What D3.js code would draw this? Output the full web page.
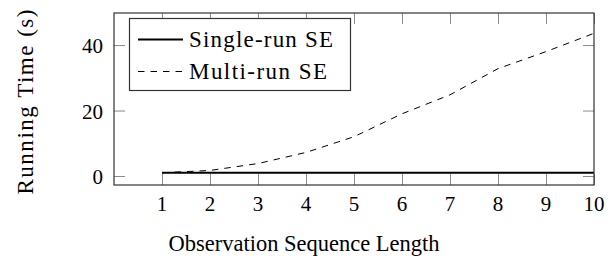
<!DOCTYPE html>
<html lang="en">
<head>
    <title>Running Time vs Observation Sequence Length</title>
    <script src="https://d3js.org/d3.v7.min.js"></script>
</head>
<body style="margin: 0; background: #fff;">
    <div id="chart"></div>

    <script>
        // Data
        const lengths = [1, 2, 3, 4, 5, 6, 7, 8, 9, 10];
        const singleRun = [1.0, 1.0, 1.0, 1.0, 1.0, 1.0, 1.0, 1.0, 1.0, 1.0];
        const multiRun = [1.0, 1.7, 3.8, 7.2, 12.0, 19.0, 24.8, 32.8, 38.0, 43.6];
        const xTicks = [1, 2, 3, 4, 5, 6, 7, 8, 9, 10];
        const yTicks = [0, 20, 40];
        const seriesNames = ["Single-run SE", "Multi-run SE"];

        const width = 609;
        const height = 259;
        const plot = { left: 114, right: 594, top: 13, bottom: 185 };
        const font = "Liberation Serif";

        const svg = d3.select("#chart")
            .append("svg")
            .attr("width", width)
            .attr("height", height)
            .attr("font-family", font);

        const x = d3.scaleLinear().domain([0, 10]).range([plot.left, plot.right]);
        const y = d3.scaleLinear().domain([-2.75, 49.8]).range([plot.bottom, plot.top]);

        const tickLen = 11;
        const tickColor = "#8a8a8a";

        // Ticks on all four sides, pointing inwards
        const axes = [
            { axis: d3.axisBottom(x).tickValues(xTicks).tickSize(-tickLen).tickFormat(""), t: `translate(0,${plot.bottom})` },
            { axis: d3.axisTop(x).tickValues(xTicks).tickSize(-tickLen).tickFormat(""), t: `translate(0,${plot.top})` },
            { axis: d3.axisLeft(y).tickValues(yTicks).tickSize(-tickLen).tickFormat(""), t: `translate(${plot.left},0)` },
            { axis: d3.axisRight(y).tickValues(yTicks).tickSize(-tickLen).tickFormat(""), t: `translate(${plot.right},0)` }
        ];
        axes.forEach(a => {
            const g = svg.append("g").attr("transform", a.t).call(a.axis);
            g.select(".domain").remove();
            g.selectAll(".tick line").attr("stroke", tickColor).attr("stroke-width", 1);
        });

        // Tick labels
        svg.append("g")
            .selectAll("text")
            .data(xTicks)
            .join("text")
            .attr("x", d => x(d))
            .attr("y", 211)
            .attr("text-anchor", "middle")
            .attr("font-family", font)
            .attr("font-size", 21)
            .text(d => d);

        svg.append("g")
            .selectAll("text")
            .data(yTicks)
            .join("text")
            .attr("x", 103)
            .attr("y", d => y(d) + 8)
            .attr("text-anchor", "end")
            .attr("font-family", font)
            .attr("font-size", 21)
            .text(d => d);

        // Lines
        const line = vals => d3.line()
            .x((d, i) => x(lengths[i]))
            .y(d => y(d))(vals);

        svg.append("path")
            .attr("d", line(multiRun))
            .attr("fill", "none")
            .attr("stroke", "#000")
            .attr("stroke-width", 1)
            .attr("stroke-dasharray", "6.5,6");

        svg.append("path")
            .attr("d", line(singleRun))
            .attr("fill", "none")
            .attr("stroke", "#000")
            .attr("stroke-width", 2.2);

        // Frame
        svg.append("rect")
            .attr("x", plot.left)
            .attr("y", plot.top)
            .attr("width", plot.right - plot.left)
            .attr("height", plot.bottom - plot.top)
            .attr("fill", "none")
            .attr("stroke", "#333")
            .attr("stroke-width", 1.2);

        // Legend
        const legend = svg.append("g");
        legend.append("rect")
            .attr("x", 129.5)
            .attr("y", 18.5)
            .attr("width", 221)
            .attr("height", 72)
            .attr("fill", "#fff")
            .attr("stroke", "#333")
            .attr("stroke-width", 1.2);

        const rows = [
            { name: seriesNames[0], cy: 39.5, dash: null, w: 2.2, tw: 144 },
            { name: seriesNames[1], cy: 71.5, dash: "6.5,6", w: 1, tw: 138 }
        ];
        rows.forEach(r => {
            legend.append("line")
                .attr("x1", 138).attr("x2", 183)
                .attr("y1", r.cy).attr("y2", r.cy)
                .attr("stroke", "#000")
                .attr("stroke-width", r.w)
                .attr("stroke-dasharray", r.dash);
            legend.append("text")
                .attr("x", 189)
                .attr("y", r.cy + 7)
                .attr("font-family", font)
                .attr("font-size", 23)
                .attr("textLength", r.tw)
                .attr("lengthAdjust", "spacing")
                .text(r.name);
        });

        // Axis titles
        svg.append("text")
            .attr("x", 304)
            .attr("y", 251)
            .attr("text-anchor", "middle")
            .attr("font-family", font)
            .attr("font-size", 23)
            .attr("textLength", 271)
            .attr("lengthAdjust", "spacingAndGlyphs")
            .text("Observation Sequence Length");

        svg.append("text")
            .attr("transform", "translate(33,102) rotate(-90)")
            .attr("text-anchor", "middle")
            .attr("font-family", font)
            .attr("font-size", 23)
            .attr("textLength", 185)
            .attr("lengthAdjust", "spacing")
            .text("Running Time (s)");
    </script>
</body>
</html>
